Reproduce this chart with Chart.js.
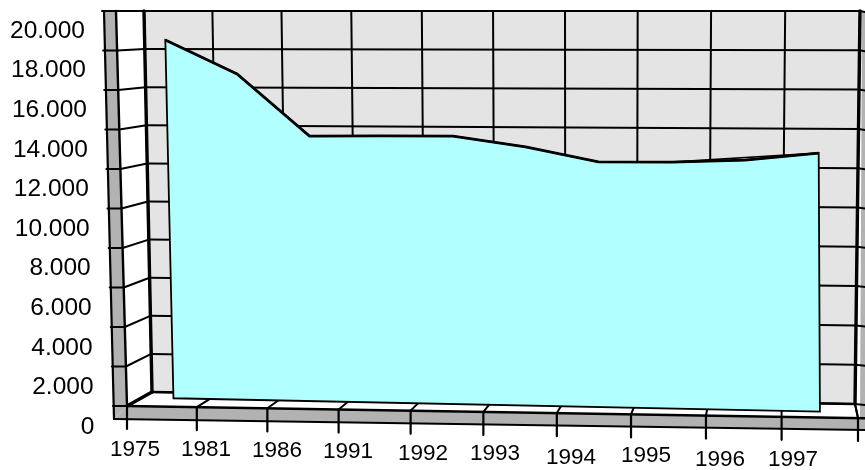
<!DOCTYPE html>
<html><head><meta charset="utf-8">
<style>html,body{margin:0;padding:0;background:#fff}canvas{display:block}</style>
<script src="https://cdn.jsdelivr.net/npm/chart.js@4"></script>
</head><body><canvas id="c" width="865" height="470"></canvas>
<script>
// ---- data ----
const years = ['1975','1981','1986','1991','1992','1993','1994','1995','1996','1997'];
const values = [18500,16760,13590,13620,13640,13110,12380,12400,12530,12910];
const yMax = 20000;
const yStep = 2000;

// ---- layout of the 3D box (perspective view) ----
const BOX = { // corners: [x,y]; f=front, b=back, B=bottom, T=top, L=left, R=right
  fBL:[127,406], fBR:[858,418], bBL:[152,392], bBR:[855,404],
  fTL:[116,11],  fTR:[852,11],  bTL:[144,11],  bTR:[860,11]
};
const seriesDepth = u => 0.6-0.2*u;
const labelDx = [-29.5,-31.5,-33.5,-35.5,-33.5,-34.5,-31.5,-29.5,-28.5,-28.5];
const labelCy = [450,450,451,452,454,454,458,456,460,460];
const COLORS = {strip:'#b2b2b2', wall:'#e4e4e4', area:'#b2ffff', ink:'#000'};

const lerp=(a,b,t)=>a+(b-a)*t;
function P(u,h,d,k=0.05){
  const w=u-k*u*(1-u);
  return [0,1].map(i=>{
    const fb=lerp(BOX.fBL[i],BOX.fBR[i],w), bb=lerp(BOX.bBL[i],BOX.bBR[i],w);
    const ft=lerp(BOX.fTL[i],BOX.fTR[i],w), bt=lerp(BOX.bTL[i],BOX.bTR[i],w);
    return lerp(lerp(fb,bb,d),lerp(ft,bt,d),h);
  });
}
const S=(u,h)=>P(u-0.005*(1-u),h,seriesDepth(u),0.02);
function uh(chart,x,y){const a=chart.chartArea;return [(x-a.left)/a.width,(a.bottom-y)/a.height];}
function poly(ctx,pts,fill){ctx.beginPath();pts.forEach((p,i)=>i?ctx.lineTo(p[0],p[1]):ctx.moveTo(p[0],p[1]));ctx.closePath();ctx.fillStyle=fill;ctx.fill();}
function seg(ctx,a,b,w){ctx.lineWidth=w;ctx.beginPath();ctx.moveTo(a[0],a[1]);ctx.lineTo(b[0],b[1]);ctx.stroke();}

const box3d={
  id:'box3d',
  afterDatasetsUpdate(chart){
    chart.getDatasetMeta(0).data.forEach(el=>{
      const [u,h]=uh(chart,el.x,el.y);
      const p=S(u,h);el.x=p[0];el.y=p[1];
    });
  },
  beforeDraw(chart){
    const ctx=chart.ctx,xs=chart.scales.x,ys=chart.scales.y;
    // position tick labels along the tilted axes
    xs.getLabelItems().forEach((it,i)=>{
      it.options.translation=[xs.getPixelForTick(i)+labelDx[i],labelCy[i]];
      it.options.textBaseline='middle';it.textOffset=0;
    });
    ys.getLabelItems().forEach((it,i)=>{
      const v=ys.ticks[i].value;
      it.options.translation=[94.5-9.5*v/yMax,ys.getPixelForValue(v)];
      it.options.textBaseline='middle';it.options.textAlign='right';it.textOffset=0;
    });
    ctx.save();ctx.strokeStyle=COLORS.ink;ctx.lineCap='round';
    const bl=P(0,0,1),br=P(1,0,1),tl=P(0,1,1),tr=P(1,1,1),fl=P(0,0,0),fr=P(1,0,0),ftl=P(0,1,0);
    // surfaces
    poly(ctx,[tl,tr,br,bl],COLORS.wall);
    poly(ctx,[ftl,tl,bl,fl],'#fff');
    poly(ctx,[fl,bl,br,fr],'#fff');
    const outTop=[ftl[0]-12,ftl[1]],outBot=[fl[0]-13,fl[1]+13],rightBot=[865,fr[1]+12];
    poly(ctx,[outTop,ftl,fl,outBot],COLORS.strip);
    poly(ctx,[outBot,fl,fr,[865,fr[1]],rightBot],COLORS.strip);
    poly(ctx,[[tr[0]+2,tr[1]],[865,tr[1]],[865,fr[1]],[fr[0]+2,fr[1]]],COLORS.strip);
    // horizontal grid on back wall, left wall and strip
    ys.ticks.forEach(t=>{
      const h=t.value/yMax;
      const a=P(0,h,1),b=P(1,h,1),c=P(0,h,0);
      seg(ctx,a,b,2);
      seg(ctx,c,a,2);
      seg(ctx,[c[0]-14,c[1]],c,2);
      seg(ctx,b,[865,b[1]+1],2);
    });
    // vertical grid, floor lines and tick marks
    const n=years.length;
    for(let i=0;i<=n;i++){
      const u=i/n;
      const a=P(u,0,1),b=P(u,1,1),c=P(u,0,0);
      seg(ctx,a,b,2);
      seg(ctx,c,a,2);
      seg(ctx,c,[c[0],429+12*u],2.2);
    }
    // heavy box edges
    seg(ctx,bl,tl,3.4);seg(ctx,fl,bl,3.4);seg(ctx,bl,br,2.4);
    seg(ctx,br,tr,3.4);seg(ctx,br,fr,2);
    seg(ctx,fl,ftl,2.4);seg(ctx,outTop,tr,2.2);
    seg(ctx,outTop,outBot,2.2);
    seg(ctx,fl,[865,fr[1]+0.2],2.4);seg(ctx,outBot,rightBot,2.2);
    ctx.restore();
  },
  beforeDatasetsDraw(chart){
    const ctx=chart.ctx,pts=chart.getDatasetMeta(0).data,a=chart.chartArea;
    if(!pts.length)return;
    const xs=chart.scales.x;
    const u0=(xs.getPixelForTick(0)-a.left)/a.width,u1=(xs.getPixelForTick(pts.length-1)-a.left)/a.width;
    const path=pts.map(p=>[p.x,p.y]);
    path.push(S(u1,0),S(u0,0));
    poly(ctx,path,COLORS.area);
    ctx.save();ctx.strokeStyle=COLORS.ink;ctx.lineWidth=1.8;ctx.lineJoin='miter';ctx.stroke();
    // top surface of the ribbon where the line rises
    const last=pts.length-1;
    seg(ctx,[pts[last-2].x,pts[last-2].y],[pts[last].x,pts[last].y],1.6);
    ctx.restore();
  }
};

new Chart(document.getElementById('c'),{
  type:'line',
  data:{labels:years,datasets:[{data:values,borderColor:COLORS.ink,borderWidth:2.8,fill:false,pointRadius:0,tension:0,clip:false}]},
  options:{
    responsive:false,animation:false,
    layout:{padding:{left:0,right:7,top:31,bottom:0}},
    plugins:{legend:{display:false},title:{display:false},tooltip:{enabled:false}},
    scales:{
      x:{type:'category',offset:true,
        grid:{display:false},border:{display:false},
        afterFit:s=>{s.height=43;},
        ticks:{color:'#000',font:{family:'"Liberation Sans"',size:22.5},maxRotation:0,minRotation:0,autoSkip:false}},
      y:{type:'linear',min:0,max:yMax,
        grid:{display:false},border:{display:false},
        afterFit:s=>{s.width=128;},
        ticks:{stepSize:yStep,color:'#000',font:{family:'"Liberation Sans"',size:24.5},
          callback:v=>String(v).replace(/\B(?=(\d{3})+$)/g,'.')}}
    }
  },
  plugins:[box3d]
});
</script></body></html>
